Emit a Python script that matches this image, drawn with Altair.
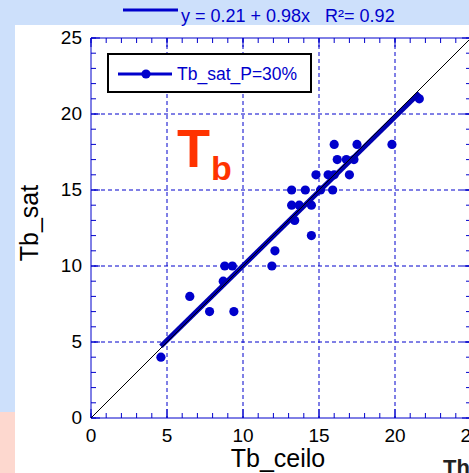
import altair as alt
import pandas as pd

# ---- data ----
tb_ceilo = [4.6, 6.5, 7.8, 9.4, 8.7, 8.8, 9.3, 11.9, 12.1, 14.5, 13.4, 13.2, 13.7, 14.5,
            13.2, 14.1, 15.1, 15.9, 14.8, 15.6, 16.0, 17.0, 16.2, 16.8, 17.3, 16.0, 17.5,
            19.8, 21.6]
tb_sat = [4, 8, 7, 7, 9, 10, 10, 10, 11, 12, 13, 14, 14, 14,
          15, 15, 15, 15, 16, 16, 16, 16, 17, 17, 17, 18, 18,
          18, 21]
fit_x = [4.6, 21.6]
fit_y = [4.72, 21.38]
diag_vals = [0, 25]
grid_vals = [5, 10, 15, 20]
minor_ticks = list(range(0, 26))
major_ticks = [0, 5, 10, 15, 20, 25]
x_labels = [0, 5, 10, 15, 20, 25]
y_labels = [0, 5, 10, 15, 20, 25]
x_title = "Tb_ceilo"
y_title = "Tb_sat"
legend_label = "Tb_sat_P=30%"
fit_text = "y = 0.21 + 0.98x\u00a0\u00a0\u00a0R\u00b2= 0.92"

W, H = 378, 380
BLUE = "#0000cc"
FONT = "Liberation Sans"

xs = alt.Scale(domain=[0, W / 15.2], nice=False, zero=False)
ys = alt.Scale(domain=[0, 25], nice=False, zero=False)


def single():
    return alt.Chart(pd.DataFrame({"k": [0]}))


# backgrounds
bg_white = single().mark_rect(color="white").encode(
    x=alt.value(-76), x2=alt.value(W + 2), y=alt.value(-13), y2=alt.value(H + 55))
bg_pink = single().mark_rect(color="#fdd8cf").encode(
    x=alt.value(-91), x2=alt.value(-76), y=alt.value(374), y2=alt.value(H + 55))

# grid
gdf = pd.DataFrame({"g": grid_vals})
grid_v = alt.Chart(gdf).mark_rule(color=BLUE, strokeDash=[4, 3], strokeWidth=1).encode(
    x=alt.X("g:Q", scale=xs, axis=None))
grid_h = alt.Chart(gdf).mark_rule(color=BLUE, strokeDash=[4, 3], strokeWidth=1).encode(
    y=alt.Y("g:Q", scale=ys, axis=None))


def tick_layers(vals, length):
    df = pd.DataFrame({"t": vals})
    base = alt.Chart(df).mark_rule(color=BLUE, strokeWidth=1)
    return [
        base.encode(x=alt.X("t:Q", scale=xs, axis=None), y=alt.value(H), y2=alt.value(H - length)),
        base.encode(x=alt.X("t:Q", scale=xs, axis=None), y=alt.value(0), y2=alt.value(length)),
        base.encode(y=alt.Y("t:Q", scale=ys, axis=None), x=alt.value(0), x2=alt.value(length)),
        base.encode(y=alt.Y("t:Q", scale=ys, axis=None), x=alt.value(W + 2), x2=alt.value(W + 2 - length)),
    ]


ticks = tick_layers(minor_ticks, 5) + tick_layers(major_ticks, 9)

frame_top = single().mark_rule(color=BLUE, strokeWidth=1).encode(
    x=alt.value(0), x2=alt.value(W + 2), y=alt.value(0))
frame_bottom = single().mark_rule(color=BLUE, strokeWidth=1).encode(
    x=alt.value(0), x2=alt.value(W + 2), y=alt.value(H))
frame_left = single().mark_rule(color=BLUE, strokeWidth=1).encode(
    x=alt.value(0), y=alt.value(0), y2=alt.value(H))

pts = pd.DataFrame({"Tb_ceilo": tb_ceilo, "Tb_sat": tb_sat})
points = alt.Chart(pts).mark_circle(size=85, color=BLUE, opacity=1).encode(
    x=alt.X("Tb_ceilo:Q", scale=xs, axis=None),
    y=alt.Y("Tb_sat:Q", scale=ys, axis=None))

fit = alt.Chart(pd.DataFrame({"x": fit_x, "y": fit_y})).mark_line(
    color="#0000b0", strokeWidth=5).encode(
    x=alt.X("x:Q", scale=xs, axis=None), y=alt.Y("y:Q", scale=ys, axis=None))

diag = alt.Chart(pd.DataFrame({"d": diag_vals})).mark_line(
    color="black", strokeWidth=1).encode(
    x=alt.X("d:Q", scale=xs, axis=None), y=alt.Y("d:Q", scale=ys, axis=None))

xlab = alt.Chart(pd.DataFrame({"v": x_labels})).mark_text(
    font=FONT, fontSize=19, baseline="top", align="center", color="black").encode(
    x=alt.X("v:Q", scale=xs, axis=None), y=alt.value(H + 8.5),
    text=alt.Text("v:Q", format="d"))
ylab = alt.Chart(pd.DataFrame({"v": y_labels})).mark_text(
    font=FONT, fontSize=19, baseline="middle", align="right", color="black").encode(
    y=alt.Y("v:Q", scale=ys, axis=None), x=alt.value(-9),
    text=alt.Text("v:Q", format="d"))

xtitle = single().mark_text(font=FONT, fontSize=25, color="black", align="center",
                            baseline="alphabetic").encode(
    x=alt.value(187), y=alt.value(429), text=alt.value(x_title))
ytitle = single().mark_text(font=FONT, fontSize=25, color="black", align="center",
                            baseline="alphabetic", angle=270).encode(
    x=alt.value(-53), y=alt.value(185), text=alt.value(y_title))

# legend box
leg_box = single().mark_rect(fill="white", stroke="black", strokeWidth=2).encode(
    x=alt.value(17), x2=alt.value(220), y=alt.value(16), y2=alt.value(54))
leg_line = single().mark_rule(color=BLUE, strokeWidth=3).encode(
    x=alt.value(27), x2=alt.value(81), y=alt.value(36))
leg_dot = single().mark_circle(size=85, color=BLUE, opacity=1).encode(
    x=alt.value(55), y=alt.value(36))
leg_text = single().mark_text(font=FONT, fontSize=17.5, color=BLUE, align="left",
                              baseline="middle").encode(
    x=alt.value(86), y=alt.value(37), text=alt.value(legend_label))

# fit legend above plot
fit_line_leg = single().mark_rule(color=BLUE, strokeWidth=3).encode(
    x=alt.value(32), x2=alt.value(87), y=alt.value(-28))
fit_text_leg = single().mark_text(font=FONT, fontSize=18, color=BLUE, align="left",
                                  baseline="alphabetic").encode(
    x=alt.value(90), y=alt.value(-16), text=alt.value(fit_text))

# Tb annotation
t_big = single().mark_text(font=FONT, fontSize=54, fontWeight="bold", color="#ff3300",
                           align="left", baseline="alphabetic").encode(
    x=alt.value(86), y=alt.value(129), text=alt.value("T"))
t_sub = single().mark_text(font=FONT, fontSize=34, fontWeight="bold", color="#ff3300",
                           align="left", baseline="alphabetic").encode(
    x=alt.value(120), y=alt.value(142), text=alt.value("b"))

th_text = single().mark_text(font=FONT, fontSize=22, fontWeight="bold", color="#222222",
                             align="left", baseline="alphabetic").encode(
    x=alt.value(352), y=alt.value(437), text=alt.value("Th"))

chart = alt.layer(
    bg_white, bg_pink, grid_v, grid_h, *ticks, frame_top, frame_bottom, frame_left,
    points, fit, diag, xlab, ylab, xtitle, ytitle,
    leg_box, leg_line, leg_dot, leg_text, fit_line_leg, fit_text_leg, t_big, t_sub, th_text
).properties(
    width=W, height=H,
    autosize=alt.AutoSizeParams(type="none"),
    padding={"left": 91, "top": 38, "right": 0, "bottom": 55},
    background="#cde0fb",
).configure_view(stroke=None)

chart.save("out.html", embed_options={"renderer": "svg", "actions": False})
